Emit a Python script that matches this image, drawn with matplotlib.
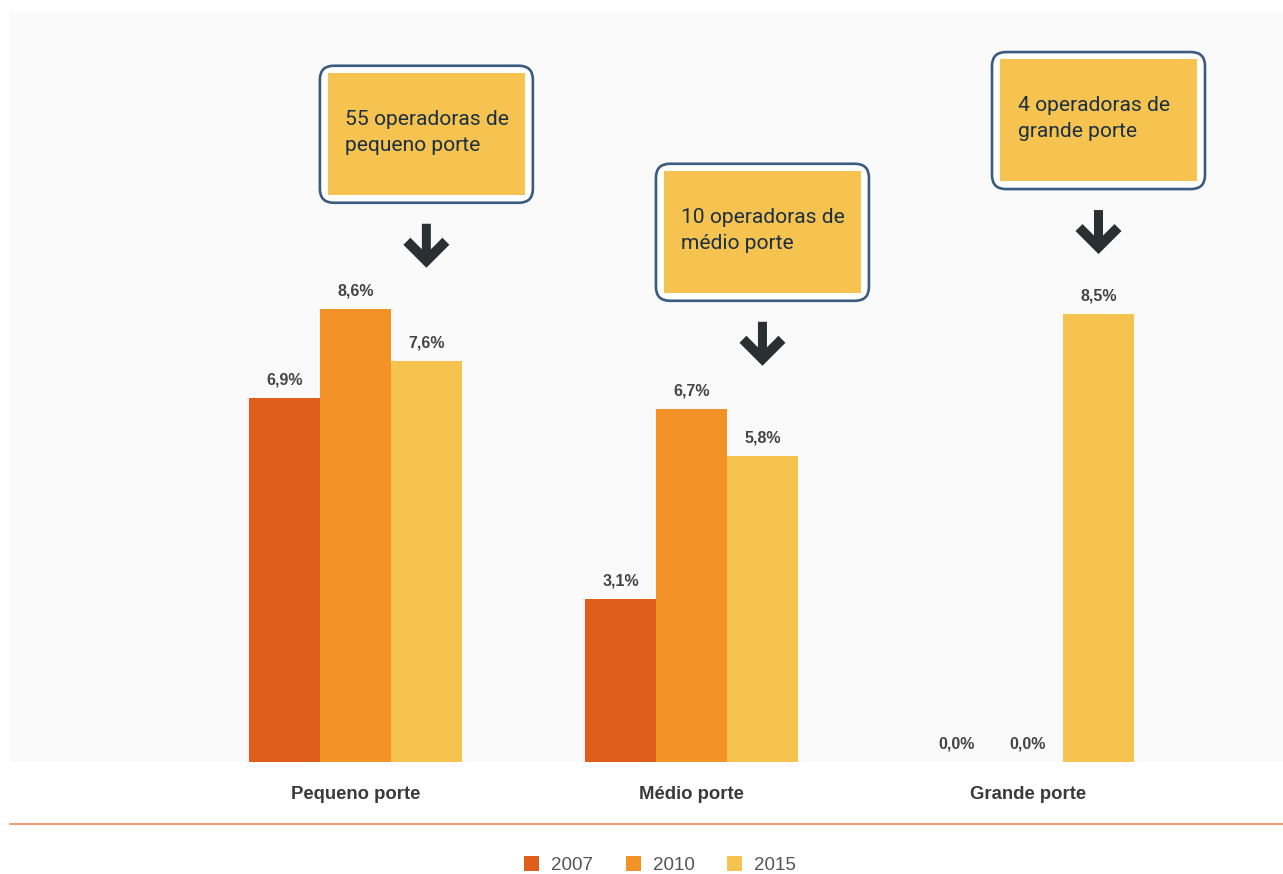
#!/usr/bin/env python3
import numpy as np
import matplotlib
matplotlib.use('Agg')
import matplotlib.pyplot as plt
from matplotlib.patches import FancyBboxPatch, Rectangle, Polygon, Patch
from matplotlib.transforms import ScaledTranslation

# data
categories = ['Pequeno porte', 'Médio porte', 'Grande porte']
years = ['2007', '2010', '2015']
v2007 = [6.9, 3.1, 0.0]
v2010 = [8.6, 6.7, 0.0]
v2015 = [7.6, 5.8, 8.5]
notes = ['55 operadoras de\npequeno porte',
         '10 operadoras de\nmédio porte',
         '4 operadoras de\ngrande porte']
note_top = [13.21, 11.35, 13.47]   # top of each callout, in % units

colors = ['#E05E1C', '#F29227', '#F6C350']
W, H = 1283, 874

fig = plt.figure(figsize=(W / 100, H / 100), dpi=100)
fig.patch.set_facecolor('white')
ax = fig.add_axes([10 / W, (H - 762) / H, 1273 / W, 750 / H])
ax.set_facecolor('#FAFAFA')
for s in ax.spines.values():
    s.set_visible(False)

x = np.arange(len(categories))
bw = 0.211
series = [v2007, v2010, v2015]
for k, vals in enumerate(series):
    xs = x + (k - 1) * bw
    ax.bar(xs, vals, width=bw, color=colors[k], linewidth=0)
    for xi, v in zip(xs, vals):
        ax.annotate(('%.1f%%' % v).replace('.', ','), (xi, v), xytext=(0, 13),
                    textcoords='offset points', ha='center', va='center',
                    fontsize=11.5, fontweight='bold', color='#444444',
                    family='Liberation Sans')

ax.set_xlim(-1.028, 2.76)
ax.set_ylim(0, 14.23)
ax.set_yticks([])
ax.set_xticks(x)
ax.set_xticklabels(categories, fontsize=13.3, fontweight='bold', color='#3a3a3a',
                   family='Liberation Sans')
ax.tick_params(axis='x', length=0, pad=17)

arrow_shape = np.array([(-4.5, 0), (4.5, 0), (4.5, 25.5), (16, 14), (23, 21),
                        (0, 44), (-23, 21), (-16, 14), (-4.5, 25.5)])

for i, txt in enumerate(notes):
    cx = x[i] + bw
    top = note_top[i]
    # pixel-sized callout anchored at the top centre of the box
    tr = fig.dpi_scale_trans + ScaledTranslation(cx, top, ax.transData)
    border = FancyBboxPatch((-106.5 / 100, -137 / 100), 2.13, 1.37,
                            boxstyle='round,pad=0,rounding_size=0.14',
                            facecolor='white', edgecolor='#3A5A80', linewidth=1.9,
                            transform=tr, clip_on=False, zorder=3)
    fig.add_artist(border)
    fill = Rectangle((-98.5 / 100, -129 / 100), 1.97, 1.22, facecolor='#F6C350',
                     edgecolor='none', transform=tr, clip_on=False, zorder=4)
    fig.add_artist(fill)
    fig.text(-81 / 100, -66.5 / 100, txt, transform=tr, ha='left', va='center',
             fontsize=15.1, color='#1B2F42', linespacing=1.45,
             family=['Roboto', 'DejaVu Sans'], zorder=5)
    pts = arrow_shape.copy()
    pts[:, 1] = -(pts[:, 1] + 158)
    arrow = Polygon(pts / 100, closed=True, facecolor='#2A2F33', edgecolor='none',
                    transform=tr, clip_on=False, zorder=4)
    fig.add_artist(arrow)

# separator line
fig.add_artist(plt.Line2D([10 / W, 1], [1 - 824 / H, 1 - 824 / H],
                          transform=fig.transFigure, color='#EE8B55', linewidth=1.2))

handles = [Patch(facecolor=c, edgecolor='none') for c in colors]
fig.legend(handles, years, loc='center', bbox_to_anchor=(0.5145, 1 - 865 / H), ncol=3,
           frameon=False, prop={'family': 'Liberation Sans', 'size': 13.5},
           labelcolor='#555555', handlelength=0.8, handleheight=0.8,
           handletextpad=0.62, columnspacing=1.75, borderpad=0.2)

plt.savefig('out.png', dpi=100, facecolor='white')
